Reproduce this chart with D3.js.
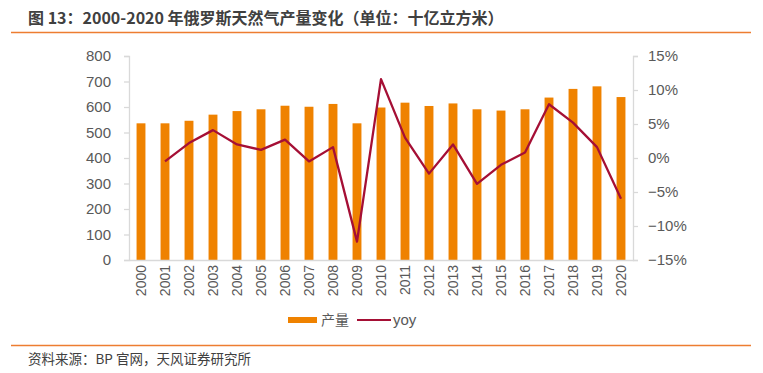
<!DOCTYPE html>
<html><head><meta charset="utf-8">
<script src="https://cdn.jsdelivr.net/npm/d3@7"></script>
<style>body{margin:0;background:#fff;}svg{display:block;}</style>
</head><body>
<svg id="c" width="763" height="373"></svg>
<script>
const years = ["2000","2001","2002","2003","2004","2005","2006","2007","2008","2009","2010","2011","2012","2013","2014","2015","2016","2017","2018","2019","2020"];
const production = [536,536,546,570,584,591,605,601,612,536,598,617,604,614,591,586,591,637,671,681,639];
const yoy = [null,-0.5,2.2,4.1,2.0,1.2,2.7,-0.5,1.6,-12.3,11.6,3.0,-2.3,2.0,-3.8,-1.0,0.8,7.9,5.2,1.6,-6.0];
const leftTicks = [0,100,200,300,400,500,600,700,800];
const rightTicks = [-15,-10,-5,0,5,10,15];

const svg = d3.select("#c");
const L = 129, R = 633, T = 56, B = 260;
const font = "'Liberation Sans', Arial, sans-serif";
const cjk = "'Noto Sans CJK SC', sans-serif";

const x = d3.scaleBand().domain(years).range([L, R]).paddingInner(0.63).paddingOuter(0.315);
const yL = d3.scaleLinear().domain([0, 800]).range([B, T]);
const yR = d3.scaleLinear().domain([-15, 15]).range([B, T]);

// title
svg.append("text").attr("x", 28).attr("y", 24).attr("font-family", cjk).attr("font-weight", "bold")
  .attr("font-size", 16).attr("fill", "#404040").text("图 13：2000-2020 年俄罗斯天然气产量变化（单位：十亿立方米）");
svg.append("line").attr("x1", 11).attr("x2", 751).attr("y1", 32.5).attr("y2", 32.5).attr("stroke", "#ED7D31").attr("stroke-width", 1.3);
svg.append("line").attr("x1", 11).attr("x2", 751).attr("y1", 345.5).attr("y2", 345.5).attr("stroke", "#ED7D31").attr("stroke-width", 1.3);
svg.append("text").attr("x", 28).attr("y", 364).attr("font-family", cjk)
  .attr("font-size", 13.5).attr("fill", "#404040").text("资料来源：BP 官网，天风证券研究所");

// bars
svg.append("g").selectAll("rect").data(production).join("rect")
  .attr("x", (d, i) => x(years[i])).attr("width", x.bandwidth())
  .attr("y", d => yL(d)).attr("height", d => B - yL(d)).attr("fill", "#EF8200");

// axes
const axisColor = "#d9d9d9";
const gl = svg.append("g").attr("transform", `translate(${L},0)`)
  .call(d3.axisLeft(yL).tickValues(leftTicks).tickSize(5).tickPadding(13));
const gr = svg.append("g").attr("transform", `translate(${R},0)`)
  .call(d3.axisRight(yR).tickValues(rightTicks).tickSize(5).tickPadding(10).tickFormat(d => (d < 0 ? "\u2212" + Math.abs(d) : d) + "%"));
const gb = svg.append("g").attr("transform", `translate(0,${B})`)
  .call(d3.axisBottom(x).tickSize(0).tickPadding(6));
[gl, gr, gb].forEach(g => {
  g.selectAll("path, line").attr("stroke", axisColor).attr("stroke-width", 1.3);
  g.selectAll("text").attr("font-family", font).attr("font-size", 15).attr("fill", "#595959");
});
gb.selectAll("text").attr("font-size", 14).attr("transform", "rotate(-90)")
  .attr("text-anchor", "end").attr("x", -5).attr("y", 0).attr("dy", "0.35em");

// line
const line = d3.line().defined(d => d != null)
  .x((d, i) => x(years[i]) + x.bandwidth() / 2).y(d => yR(d));
svg.append("path").datum(yoy).attr("d", (d) => line(d)).attr("fill", "none")
  .attr("stroke", "#A50F35").attr("stroke-width", 2.3).attr("stroke-linejoin", "round");

// legend
svg.append("rect").attr("x", 288).attr("y", 317).attr("width", 29).attr("height", 6).attr("fill", "#EF8200");
svg.append("text").attr("x", 321).attr("y", 325).attr("font-family", cjk).attr("font-size", 14).attr("fill", "#595959").text("产量");
svg.append("line").attr("x1", 357).attr("x2", 391).attr("y1", 320).attr("y2", 320).attr("stroke", "#A50F35").attr("stroke-width", 2);
svg.append("text").attr("x", 393).attr("y", 325).attr("font-family", font).attr("font-size", 15).attr("fill", "#595959").text("yoy");
</script>
</body></html>
